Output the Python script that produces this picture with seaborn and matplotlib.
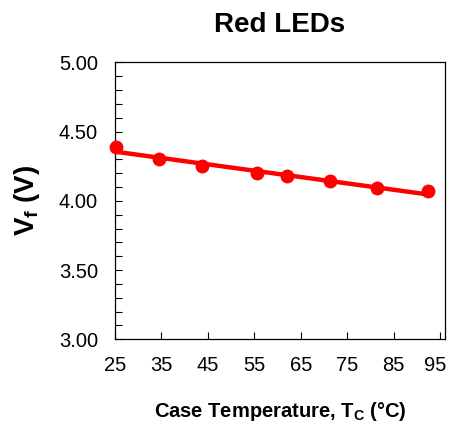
import matplotlib
matplotlib.use("Agg")
import matplotlib.pyplot as plt
import matplotlib.transforms as mtransforms
from matplotlib.ticker import MultipleLocator, FormatStrFormatter
import pandas as pd
import seaborn as sns

# Case temperature (deg C) and forward voltage (V)
case_temp = [25.2, 34.6, 43.8, 55.6, 62.0, 71.3, 81.3, 92.3]
forward_v = [4.39, 4.30, 4.25, 4.20, 4.18, 4.14, 4.09, 4.07]
x_ticks = [25, 35, 45, 55, 65, 75, 85, 95]

sns.set_style("white")
plt.rcParams["font.family"] = ["Liberation Sans", "DejaVu Sans"]
plt.rcParams["mathtext.fontset"] = "custom"
plt.rcParams["mathtext.rm"] = "Liberation Sans"
plt.rcParams["mathtext.bf"] = "Liberation Sans:bold"
for key in ["text.color", "axes.labelcolor", "xtick.color", "ytick.color"]:
    plt.rcParams[key] = "black"

df = pd.DataFrame({"temp": case_temp, "vf": forward_v})

fig = plt.figure(figsize=(4.49, 4.25), dpi=100)
ax = fig.add_axes([0.2555, 0.2016, 0.7355, 0.6518])

# linear trend line plus the measured points
sns.regplot(data=df, x="temp", y="vf", ax=ax, ci=None, color="#ff0000",
            scatter_kws={"s": 100, "alpha": 1, "zorder": 3, "linewidths": 0,
                         "clip_on": False},
            line_kws={"lw": 3.2})

ax.set_xlim(25, 96)
ax.set_ylim(3.0, 5.0)
ax.set_xticks(x_ticks)
ax.yaxis.set_major_locator(MultipleLocator(0.5))
ax.yaxis.set_minor_locator(MultipleLocator(0.1))
ax.yaxis.set_major_formatter(FormatStrFormatter("%.2f"))

ax.tick_params(axis="both", which="both", direction="in", color="black",
               labelsize=14.5, left=True, bottom=True)
ax.tick_params(axis="y", which="both", length=5, width=0.8, pad=12)
ax.tick_params(axis="x", which="major", length=5, width=0.8, pad=12)

# nudge the last x label left so it stays inside the figure
last = ax.get_xticklabels()[-1]
last.set_transform(last.get_transform() +
                   mtransforms.ScaledTranslation(-5 / 100, 0, fig.dpi_scale_trans))

for sp in ax.spines.values():
    sp.set_color("black")
    sp.set_linewidth(0.9)
    sp.set_visible(True)

ax.set_title("Red LEDs", fontsize=20, fontweight="bold", pad=22)
ax.set_xlabel(r"Case Temperature, T$_\mathbf{C}$ (°C)", fontsize=14.5,
              fontweight="bold", labelpad=18)
ax.set_ylabel(r"$\mathbf{V_f}$ (V)", fontsize=20, fontweight="bold", labelpad=12)

fig.savefig("out.png", dpi=100)
